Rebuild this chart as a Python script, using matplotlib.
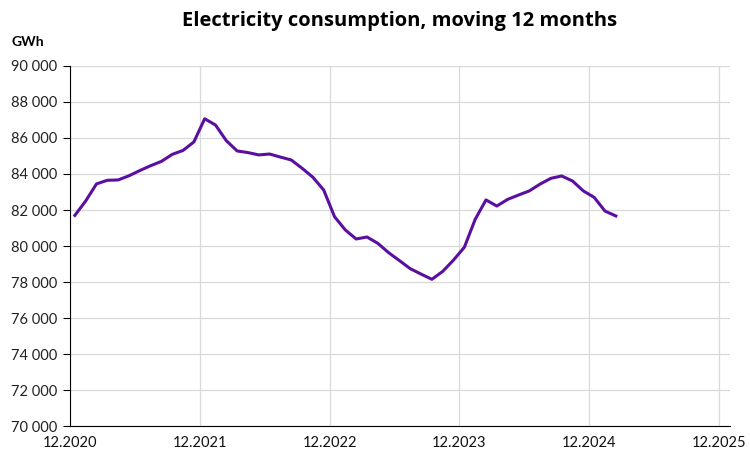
import matplotlib.pyplot as plt
from matplotlib.ticker import FuncFormatter

plt.rcParams['font.family'] = ['Lato', 'DejaVu Sans']

# monthly values, 12.2020 .. 02.2025 (GWh, moving 12 months)
consumption = [
    81700, 82500, 83450, 83650, 83670, 83900, 84190, 84460, 84700, 85090, 85310, 85780,
    87070, 86720, 85850, 85280, 85190, 85060, 85110, 84940, 84780, 84320, 83820, 83110,
    81630, 80890, 80390, 80500, 80150, 79630, 79190, 78740, 78440, 78150, 78590, 79220,
    79930, 81480, 82560, 82220, 82590, 82830, 83060, 83440, 83760, 83890, 83610, 83060,
    82700, 81940, 81670,
]
months = [i + 0.45 for i in range(len(consumption))]
tick_pos = [0, 12, 24, 36, 48, 60]
tick_labels = ["12.2020", "12.2021", "12.2022", "12.2023", "12.2024", "12.2025"]

fig = plt.figure(figsize=(7.5, 4.57), dpi=100)
ax = fig.add_axes([0.0933, 0.0678, 0.88, 0.7878])

ax.plot(months, consumption, color="#5b0fa0", lw=2.2, solid_joinstyle="round")

ax.set_xlim(0, 61)
ax.set_ylim(70000, 90000)
ax.set_yticks(range(70000, 90001, 2000))
ax.yaxis.set_major_formatter(FuncFormatter(lambda v, p: f"{int(v):,}".replace(",", " ")))
ax.set_xticks(tick_pos)
ax.set_xticklabels(tick_labels)

ax.grid(True, color="#d9d9d9", lw=0.9)
ax.set_axisbelow(True)
for s in ["top", "right"]:
    ax.spines[s].set_visible(False)
ax.spines["left"].set_color("#000000")
ax.spines["bottom"].set_color("#000000")
ax.tick_params(axis="y", length=5, width=0.8, labelsize=10.5, pad=4, labelcolor="#222222")
ax.tick_params(axis="x", length=0, labelsize=10.5, pad=7, labelcolor="#111111")

fig.text(0.5333, 0.955, "Electricity consumption, moving 12 months", fontsize=14.5,
         fontweight="bold", ha="center", va="center", family=["Open Sans", "DejaVu Sans"])
fig.text(0.016, 0.9, "GWh", fontsize=10, fontweight="bold")

plt.savefig("out.png", dpi=100)
